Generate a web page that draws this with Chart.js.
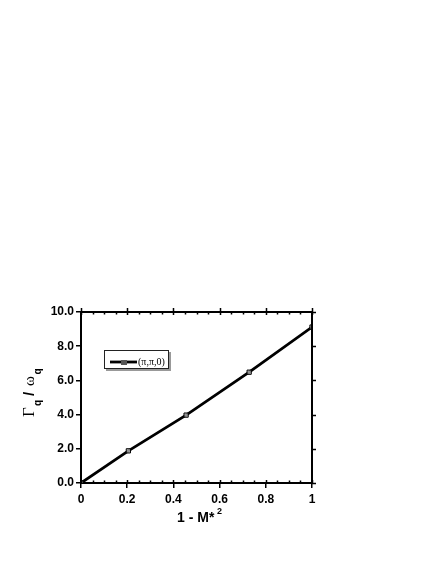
<!DOCTYPE html>
<html><head><meta charset="utf-8">
<script src="https://cdn.jsdelivr.net/npm/chart.js@4"></script>
<style>html,body{margin:0;padding:0;background:#fff}#wrap{width:436px;height:564px}</style>
</head><body><div id="wrap"><canvas id="c" width="436" height="564"></canvas></div>
<script>
const xValues = [0, 0.205, 0.455, 0.728, 1.0];
const yValues = [0, 1.88, 3.97, 6.48, 9.12];
const seriesLabel = '(π,π,0)';
const xTickLabels = ['0', '0.2', '0.4', '0.6', '0.8', '1'];
const yTickLabels = ['0.0', '2.0', '4.0', '6.0', '8.0', '10.0'];

const frame = {
  id: 'frame',
  afterDatasetsDraw(chart) {
    const ctx = chart.ctx, a = chart.chartArea;
    const xs = chart.scales.x, ys = chart.scales.y;
    ctx.save();
    ctx.strokeStyle = '#000';
    ctx.lineWidth = 2;
    ctx.beginPath();
    ctx.moveTo(a.left, a.top); ctx.lineTo(a.right, a.top); ctx.lineTo(a.right, a.bottom);
    ctx.stroke();
    ctx.lineWidth = 1.5;
    ctx.beginPath();
    for (let i = 0; i <= 20; i++) {
      const v = i / 20;
      const px = Math.round(xs.getPixelForValue(v)) + 0.5;
      const major = i % 4 === 0;
      if (major) {
        ctx.moveTo(px, a.bottom); ctx.lineTo(px, a.bottom - 3);
        ctx.moveTo(px, a.top - 4); ctx.lineTo(px, a.top + 3);
      } else {
        ctx.moveTo(px, a.bottom); ctx.lineTo(px, a.bottom - 2.5);
        ctx.moveTo(px, a.top); ctx.lineTo(px, a.top + 2.5);
      }
    }
    for (let v = 0; v <= 10; v += 2) {
      const py = Math.round(ys.getPixelForValue(v)) + 0.5;
      ctx.moveTo(a.right, py); ctx.lineTo(a.right + 4, py);
    }
    ctx.stroke();

    // legend
    ctx.fillStyle = '#999';
    ctx.fillRect(106, 352, 65, 19);
    ctx.fillStyle = '#fff';
    ctx.fillRect(104, 350, 65, 19);
    ctx.lineWidth = 1;
    ctx.strokeStyle = '#222';
    ctx.strokeRect(104.5, 350.5, 64, 18);
    ctx.strokeStyle = '#000';
    ctx.lineWidth = 2.8;
    ctx.beginPath(); ctx.moveTo(110, 362); ctx.lineTo(137, 362); ctx.stroke();
    ctx.fillStyle = '#555';
    ctx.fillRect(121, 360, 6, 5);
    ctx.fillStyle = '#000';
    ctx.font = '10px "Liberation Serif", serif';
    ctx.textBaseline = 'middle';
    ctx.textAlign = 'left';
    ctx.fillText(seriesLabel, 138, 362.5);

    // x title
    ctx.textBaseline = 'alphabetic';
    ctx.font = 'bold 14px "Liberation Sans", Arial, sans-serif';
    ctx.fillText('1 - M*', 177, 522);
    ctx.font = 'bold 9px "Liberation Sans", Arial, sans-serif';
    ctx.fillText('2', 217, 514);

    // y title (rotated)
    ctx.translate(34, 417);
    ctx.rotate(-Math.PI / 2);
    ctx.font = '17px "Liberation Serif", serif';
    ctx.fillText('Γ', 0, 0);
    ctx.font = 'bold 10px "Liberation Sans", Arial, sans-serif';
    ctx.fillText('q', 11, 7);
    ctx.font = 'bold 15px "Liberation Sans", Arial, sans-serif';
    ctx.fillText('/', 21, 0);
    ctx.font = '15px "Liberation Serif", serif';
    ctx.fillText('ω', 31, 0);
    ctx.font = 'bold 10px "Liberation Sans", Arial, sans-serif';
    ctx.fillText('q', 42.5, 7);
    ctx.restore();
  }
};

new Chart(document.getElementById('c'), {
  type: 'line',
  data: {
    datasets: [{
      label: seriesLabel,
      data: xValues.map((x, i) => ({ x, y: yValues[i] })),
      borderColor: '#000',
      borderWidth: 2.8,
      pointStyle: 'rect',
      pointRadius: 3,
      pointBorderWidth: 1,
      pointBorderColor: '#000',
      pointBackgroundColor: 'rgba(180,180,180,0.8)',
      tension: 0
    }]
  },
  options: {
    responsive: false,
    animation: false,
    layout: { padding: { top: 312, right: 124, left: 0, bottom: 0 } },
    plugins: { legend: { display: false }, tooltip: { enabled: false } },
    scales: {
      x: {
        type: 'linear', min: 0, max: 1,
        afterFit: s => { s.height = 81; },
        afterBuildTicks: s => { s.ticks = xTickLabels.map(t => ({ value: parseFloat(t) })); },
        ticks: {
          callback: (v, i) => xTickLabels[i],
          color: '#000', padding: 4, maxRotation: 0,
          font: { family: '"Liberation Sans", Arial, sans-serif', size: 12, weight: 'bold' }
        },
        grid: { drawOnChartArea: false, color: '#000', lineWidth: 1.5, tickLength: 5 },
        border: { color: '#000', width: 2 }
      },
      y: {
        type: 'linear', min: 0, max: 10,
        afterFit: s => { s.width = 81; },
        afterBuildTicks: s => { s.ticks = yTickLabels.map(t => ({ value: parseFloat(t) })); },
        ticks: {
          callback: (v, i) => yTickLabels[i],
          color: '#000', padding: 2,
          font: { family: '"Liberation Sans", Arial, sans-serif', size: 12, weight: 'bold' }
        },
        grid: { drawOnChartArea: false, color: '#000', lineWidth: 1.5, tickLength: 5 },
        border: { color: '#000', width: 2 }
      }
    }
  },
  plugins: [frame]
});
</script>
</body></html>
